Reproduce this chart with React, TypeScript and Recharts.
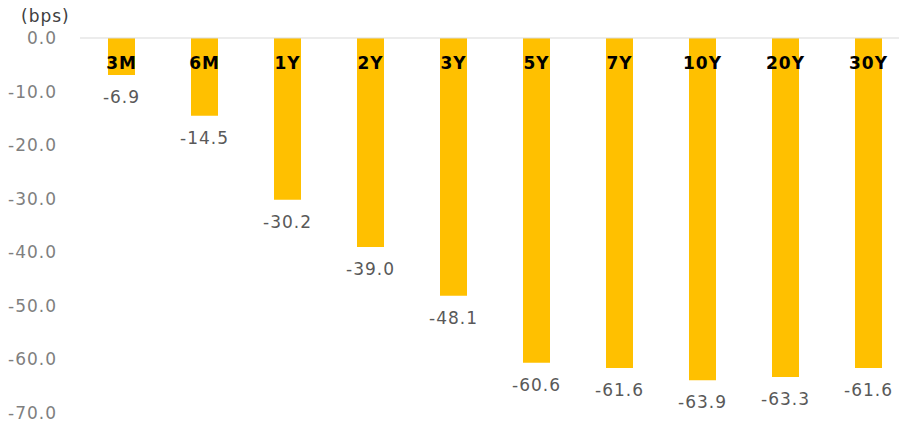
import React from 'react';
import { BarChart, Bar, XAxis, YAxis, ReferenceLine, LabelList } from 'recharts';

const tenors = ['3M', '6M', '1Y', '2Y', '3Y', '5Y', '7Y', '10Y', '20Y', '30Y'];
const changes = [-6.9, -14.5, -30.2, -39.0, -48.1, -60.6, -61.6, -63.9, -63.3, -61.6];
const yTicks = [0, -10, -20, -30, -40, -50, -60, -70];

const data = tenors.map((name, i) => ({ name, value: changes[i] }));

const FONT = '"DejaVu Sans", Verdana, sans-serif';

// tenor name sits just inside the top of each bar
const TenorLabel = (props: any) => {
  const { x, y, width, height, value } = props;
  const top = Math.min(y, y + height);
  return (
    <text
      x={x + width / 2}
      y={top + 25}
      textAnchor="middle"
      dominantBaseline="central"
      fontFamily={FONT}
      fontSize={17}
      fontWeight="bold"
      letterSpacing={1}
      fill="#000"
    >
      {value}
    </text>
  );
};

// value printed under the end of each bar
const ValueLabel = (props: any) => {
  const { x, y, width, height, value } = props;
  const bottom = Math.max(y, y + height);
  return (
    <text
      x={x + width / 2}
      y={bottom + 22}
      textAnchor="middle"
      dominantBaseline="central"
      fontFamily={FONT}
      fontSize={17}
      letterSpacing={1}
      fill="#595959"
    >
      {Number(value).toFixed(1)}
    </text>
  );
};

const App: React.FC = () => {
  return (
    <div
      style={{
        position: 'absolute',
        left: 0,
        top: 0,
        width: 899,
        height: 426,
        overflow: 'hidden',
        background: '#fff',
      }}
    >
      <div
        style={{
          position: 'absolute',
          left: 21,
          top: 6,
          fontFamily: FONT,
          fontSize: 17,
          letterSpacing: 1,
          color: '#404040',
        }}
      >
        (bps)
      </div>
      <BarChart
        width={920}
        height={426}
        data={data}
        margin={{ top: 38, right: 10, left: 0, bottom: 13 }}
      >
        <XAxis dataKey="name" hide />
        <YAxis
          type="number"
          domain={[-70, 0]}
          ticks={yTicks}
          interval={0}
          width={80}
          axisLine={false}
          tickLine={false}
          tickSize={0}
          tickMargin={23}
          tickFormatter={(v: number) => v.toFixed(1)}
          tick={{ fill: '#7f7f7f', fontSize: 17, fontFamily: FONT, letterSpacing: 1 }}
        />
        <ReferenceLine y={0} stroke="#d9d9d9" strokeWidth={1} />
        <Bar dataKey="value" fill="#ffc000" barSize={27} isAnimationActive={false}>
          <LabelList dataKey="name" content={<TenorLabel />} />
          <LabelList dataKey="value" content={<ValueLabel />} />
        </Bar>
      </BarChart>
    </div>
  );
};

export default App;
